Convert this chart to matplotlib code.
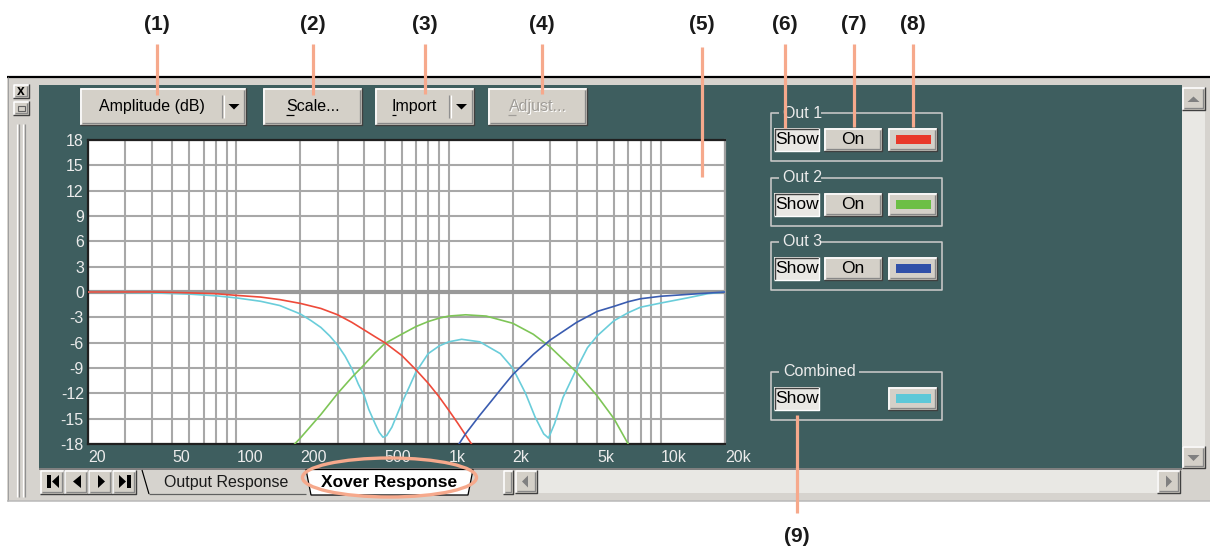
import matplotlib
matplotlib.use("Agg")
import matplotlib.pyplot as plt
from matplotlib.patches import Rectangle, Polygon, Ellipse
from matplotlib.ticker import FixedLocator, LogLocator, NullFormatter

plt.rcParams['font.family'] = ['Liberation Sans', 'DejaVu Sans']

# --- curves (Hz, dB) ---
out1_freq = [20, 40, 60, 80, 100, 130, 160, 200, 250, 300, 350, 400, 450, 500, 600, 700, 800, 900,
             1000, 1100, 1280]
out1_db = [0, 0, -0.1, -0.2, -0.4, -0.6, -0.9, -1.35, -1.95, -2.7, -3.6, -4.5, -5.3, -6.0, -7.5, -9.2,
           -10.8, -12.4, -14.0, -15.5, -18.0]

out2_freq = [188, 200, 250, 300, 350, 400, 450, 500, 600, 700, 800, 900, 1000, 1200, 1500, 2000,
             2500, 3000, 4000, 5000, 6000, 7000]
out2_db = [-18, -17.3, -14.5, -12.0, -10.1, -8.6, -7.2, -6.1, -5.0, -4.1, -3.5, -3.1, -2.85, -2.7,
           -2.85, -3.7, -5.0, -6.5, -9.5, -12.3, -15.0, -18.0]

out3_freq = [1117, 1200, 1400, 1600, 1800, 2000, 2500, 3000, 4000, 5000, 6000, 7000, 8000, 10000,
             15000, 20000]
out3_db = [-18, -16.8, -14.6, -12.8, -11.2, -9.8, -7.4, -5.7, -3.6, -2.3, -1.7, -1.15, -0.8, -0.5,
           -0.2, 0]

comb_freq = [20, 40, 60, 80, 100, 130, 160, 200, 225, 250, 275, 300, 325, 350, 375, 400, 420, 450,
             470, 490, 510, 540, 600, 650, 700, 800, 900, 1000, 1150, 1400, 1750, 2000, 2300, 2550,
             2800, 2950, 3150, 3450, 4000, 4500, 5000, 6000, 7000, 8000, 10000, 13300, 16600, 20000]
comb_db = [0, -0.1, -0.25, -0.45, -0.7, -1.1, -1.6, -2.6, -3.4, -4.2, -5.2, -6.3, -7.6, -9.1, -10.9,
           -12.3, -13.9, -15.6, -16.6, -17.2, -17.0, -16.0, -13.2, -11.3, -9.5, -7.3, -6.4, -5.9,
           -5.6, -5.9, -7.3, -9.0, -12.0, -14.8, -16.8, -17.3, -15.6, -12.5, -9.1, -6.6, -5.2, -3.4,
           -2.45, -1.8, -1.3, -0.7, -0.2, 0]

x_ticks = [20, 50, 100, 200, 500, 1000, 2000, 5000, 10000, 20000]
x_labels = ['20', '50', '100', '200', '500', '1k', '2k', '5k', '10k', '20k']
y_ticks = [-18, -15, -12, -9, -6, -3, 0, 3, 6, 9, 12, 15, 18]

top_buttons = ['Amplitude (dB)', 'Scale...', 'Import', 'Adjust...']
groups = ['Out 1', 'Out 2', 'Out 3', 'Combined']
swatches = ['#e8392a', '#6cbf45', '#3050a8', '#5ec8d8']
callouts = ['(1)', '(2)', '(3)', '(4)', '(5)', '(6)', '(7)', '(8)', '(9)']

W, H = 1210, 552
TEAL = '#3e5e5f'
WIN = '#d6d3ce'
FACE = '#d4d0c8'
TRACK = '#e9e8e4'
SALMON = '#f6a98c'
LBL = '#ececec'

fig = plt.figure(figsize=(12.1, 5.52), dpi=100)
ui = fig.add_axes([0, 0, 1, 1], zorder=0)
ui.set_xlim(0, W)
ui.set_ylim(H, 0)
ui.axis('off')


def box(x0, y0, x1, y1, fc, ax=ui):
    ax.add_patch(Rectangle((x0, y0), x1 - x0, y1 - y0, fc=fc, ec='none'))


def line(xs, ys, c, w=1.0, ax=ui):
    ax.plot(xs, ys, color=c, lw=w * 0.72, solid_capstyle='butt')


def button(x0, y0, x1, y1, fc=FACE, sunken=False):
    box(x0, y0, x1, y1, fc)
    if sunken:
        line([x0 + .5, x0 + .5, x1], [y1, y0 + .5, y0 + .5], '#404040', 1.4)
        line([x0, x1 - .5, x1 - .5], [y1 - .5, y1 - .5, y0], '#ffffff', 1.4)
    else:
        line([x0 + .5, x0 + .5, x1], [y1, y0 + .5, y0 + .5], '#ffffff', 1.6)
        line([x0, x1 - .5, x1 - .5], [y1 - .5, y1 - .5, y0], '#404040', 1.4)
        line([x0 + 1.5, x1 - 2, x1 - 2], [y1 - 2, y1 - 2, y0 + 1.5], '#888888', 1.3)


def tri(pts, c='#000000', ax=ui):
    ax.add_patch(Polygon(pts, closed=True, fc=c, ec='none'))


# --- window frame ---
box(7, 76, W, 501, WIN)
line([7, W], [76.5, 76.5], '#000000', 2.2)
line([7.5, 7.5], [77, 501], '#a0a0a0', 1)
line([7, W], [500.5, 500.5], '#b8b8b8', 1.5)
box(39, 85, 1182, 468, TEAL)

# left strip
button(13, 84, 29, 98)
ui.text(21, 91, 'x', ha='center', va='center', fontsize=10, fontweight='bold')
button(13, 101, 29, 115)
ui.add_patch(Rectangle((17.5, 105.5), 7, 5, fc='none', ec='#606060', lw=0.8))
for gx, gc in [(17, '#ffffff'), (19, '#909090'), (23, '#ffffff'), (25, '#909090')]:
    line([gx, gx], [124, 497], gc, 1.2)

# vertical scrollbar
button(1182, 87, 1205, 110)
tri([(1187.5, 102), (1199.5, 102), (1193.5, 96.5)], '#808080')
box(1182, 110, 1205, 446, TRACK)
button(1182, 446, 1205, 468)
tri([(1187.5, 455), (1199.5, 455), (1193.5, 461)], '#808080')

# horizontal scrollbar
button(503, 470, 513, 494)
button(515, 470, 537, 493)
tri([(528, 475.5), (528, 487.5), (522, 481.5)], '#808080')
box(537, 470, 1157, 493, TRACK)
button(1157, 470, 1180, 493)
tri([(1166, 475.5), (1166, 487.5), (1172, 481.5)], '#808080')

# --- toolbar buttons ---
btn_x = [(80, 246), (263, 362), (375, 474), (488, 587)]
btn_tx = [152, 313, 414, 538]
for (x0, x1), tx, name in zip(btn_x, btn_tx, top_buttons):
    button(x0, 88, x1, 125)
    if name == 'Adjust...':
        ui.text(tx + 1, 107.5, name, ha='center', va='center', fontsize=11.5, color='#ffffff')
        ui.text(tx, 106.5, name, ha='center', va='center', fontsize=11.5, color='#a09d98')
    else:
        ui.text(tx, 106.5, name, ha='center', va='center', fontsize=11.5, color='#000000')
# mnemonic underlines and dropdown parts
line([286, 294], [115, 115], '#000000', 1.2)
line([392, 396], [115, 115], '#000000', 1.2)
line([508, 516], [115, 115], '#a09d98', 1.2)
for sx, ax_ in [(222, 234), (449, 461.5)]:
    line([sx, sx], [95, 118], '#909090', 1.2)
    line([sx + 1.5, sx + 1.5], [95, 118], '#ffffff', 1.2)
    tri([(ax_ - 5.5, 104), (ax_ + 5.5, 104), (ax_, 109.5)])

# --- group boxes on the right ---
grp_top = [113, 178, 242, 372]
grp_lw = [42, 42, 42, 80]
for gi, (gname, gy, lw_, sw) in enumerate(zip(groups, grp_top, grp_lw, swatches)):
    gb = gy + 48
    gl = '#c9c9c9'
    line([779, 770.5, 770.5, 942, 942, 779 + lw_], [gy, gy, gb, gb, gy, gy], gl, 1.6)
    ui.text(783, gy, gname, ha='left', va='center', fontsize=11.5, color=LBL)
    by = gy + 15
    button(774, by, 819, by + 23, fc='#e9e8e4', sunken=True)
    ui.text(796.5, by + 11.5, 'Show', ha='center', va='center', fontsize=12.5, color='#000000')
    if gname != 'Combined':
        button(824, by, 882, by + 23)
        ui.text(853, by + 11.5, 'On', ha='center', va='center', fontsize=12.5, color='#000000')
    button(888, by, 937, by + 23)
    box(896, by + 7, 931, by + 16, sw)

# --- sheet tabs ---
box(39, 468, 1182, 469.5, '#808080')
nav_glyphs = [
    [(52, 481.5), (59, 475), (59, 488)],
    [(73, 481.5), (81, 475), (81, 488)],
    [(105, 481.5), (98, 475), (98, 488)],
    [(126, 481.5), (119, 475), (119, 488)],
]
for i, g in enumerate(nav_glyphs):
    button(40 + 24 * i, 470, 64 + 24 * i, 494)
    tri(g)
box(47, 475, 51, 488, '#000000')
box(127, 475, 131, 488, '#000000')
line([142, 149], [470, 494], '#000000', 1.2)
line([149, 306], [494, 494], '#606060', 1.2)
ui.text(226, 482, 'Output Response', ha='center', va='center', fontsize=11.5, color='#1a1a1a')
ui.add_patch(Polygon([(306, 469.5), (473, 469.5), (468, 495), (311, 495)], closed=True,
                     fc='#ffffff', ec='#000000', lw=0.9))
ui.text(389, 483, 'Xover Response', ha='center', va='center', fontsize=12.5,
        fontweight='bold', color='#000000')

# --- response plot ---
ax = fig.add_axes([88 / W, 1 - 444 / H, 637 / W, 304 / H], zorder=1)
ax.set_facecolor('#ffffff')
ax.set_xscale('log')
ax.set_xlim(20, 20000)
ax.set_ylim(-18, 18)
ax.xaxis.set_major_locator(FixedLocator(x_ticks))
ax.xaxis.set_minor_locator(LogLocator(base=10, subs=[1, 2, 3, 4, 5, 6, 7, 8, 9], numticks=20))
ax.xaxis.set_minor_formatter(NullFormatter())
ax.set_xticklabels(x_labels)
ax.set_yticks(y_ticks)
ax.set_yticklabels([str(v) for v in y_ticks])
ax.tick_params(which='both', length=0, colors=LBL, labelsize=11.5)
ax.tick_params(axis='x', pad=4.5)
ax.tick_params(axis='y', pad=3)
for lab in ax.get_xticklabels():
    lab.set_ha('left')
ax.grid(True, which='both', color='#a8a8a8', lw=1.5)
ax.axhline(0, color='#999999', lw=3.0, zorder=2)
ax.plot(comb_freq, comb_db, color='#6acdda', lw=1.2, zorder=3)
ax.plot(out2_freq, out2_db, color='#7ec557', lw=1.2, zorder=3)
ax.plot(out1_freq, out1_db, color='#ee4a3a', lw=1.2, zorder=3)
ax.plot(out3_freq, out3_db, color='#3a5cb0', lw=1.2, zorder=3)
for side in ['left', 'top', 'bottom']:
    ax.spines[side].set_color('#202020')
    ax.spines[side].set_linewidth(1.6)
ax.spines['right'].set_color('#a0a0a0')
ax.spines['right'].set_linewidth(1.6)

# --- numbered callouts ---
ov = fig.add_axes([0, 0, 1, 1], zorder=2)
ov.set_xlim(0, W)
ov.set_ylim(H, 0)
ov.axis('off')
call_x = [157, 313, 425, 542, 702, 785, 854, 913, 797]
line_top = [44, 44, 44, 44, 47, 44, 44, 44, 415]
line_bot = [95, 95, 94, 94, 177, 128, 127, 127, 513]
label_y = [25, 25, 25, 25, 25, 25, 25, 25, 536]
for cx, t, b, ty, name in zip(call_x, line_top, line_bot, label_y, callouts):
    line([cx, cx], [t, b], SALMON, 3.2, ax=ov)
    ov.text(cx, ty, name, ha='center', va='center', fontsize=15, fontweight='bold',
            color='#1a1a1a')
ov.add_patch(Ellipse((389.5, 477.5), 174, 39, fill=False, ec=SALMON, lw=2.4))

fig.savefig('out.png', dpi=100)
